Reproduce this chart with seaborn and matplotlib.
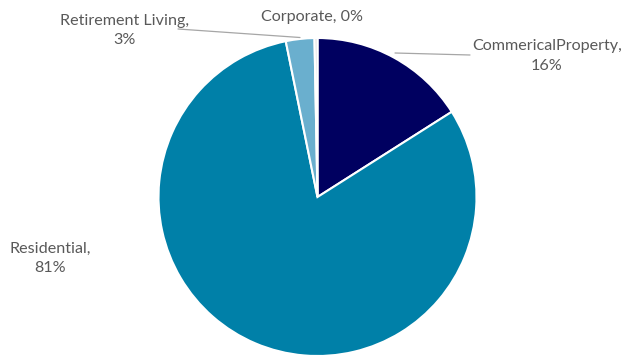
import matplotlib
matplotlib.use("Agg")
import matplotlib.pyplot as plt
import seaborn as sns

sns.set_theme(style="white")
plt.rcParams["font.family"] = ["Lato", "DejaVu Sans"]

# Segment shares (percent), drawn clockwise from 12 o'clock
segments = ["CommericalProperty", "Residential", "Retirement Living", "Corporate"]
shares = [16.0, 80.8, 2.9, 0.3]
colors = ["#000060", "#0080A8", "#6AAFCE", "#D9D9D9"]

W, H = 627, 356
fig = plt.figure(figsize=(W / 100, H / 100), dpi=100)
ax = fig.add_axes([0, 0, 1, 1])

cx, cy, r = 317.5, H - 197, 159
ax.pie(shares, colors=colors, startangle=90, counterclock=False,
       center=(cx, cy), radius=r, frame=True,
       wedgeprops=dict(edgecolor="white", linewidth=1.5))
ax.set_xlim(0, W)
ax.set_ylim(0, H)
ax.set_aspect("equal")
ax.axis("off")

labels = [f"{name},\n{round(v):.0f}%" for name, v in zip(segments, shares)]
label_pos = {
    "CommericalProperty": (547, H - 56),
    "Residential": (50, H - 258.5),
    "Retirement Living": (125, H - 30.5),
    "Corporate": (312, H - 17),
}
txt_kw = dict(color="#595959", fontsize=11.6, ha="center", va="center",
              linespacing=1.5)
for name, lab in zip(segments, labels):
    x, y = label_pos[name]
    if name == "Corporate":
        lab = lab.replace("\n", " ")
    ax.text(x, y, lab, **txt_kw)

# leader lines from labels to their wedges
ax.plot([178, 300], [H - 29, H - 37.5], color="#A6A6A6", lw=0.9)
ax.plot([395, 470], [H - 53, H - 55], color="#A6A6A6", lw=0.9)

fig.savefig("out.png", dpi=100, facecolor="white")
